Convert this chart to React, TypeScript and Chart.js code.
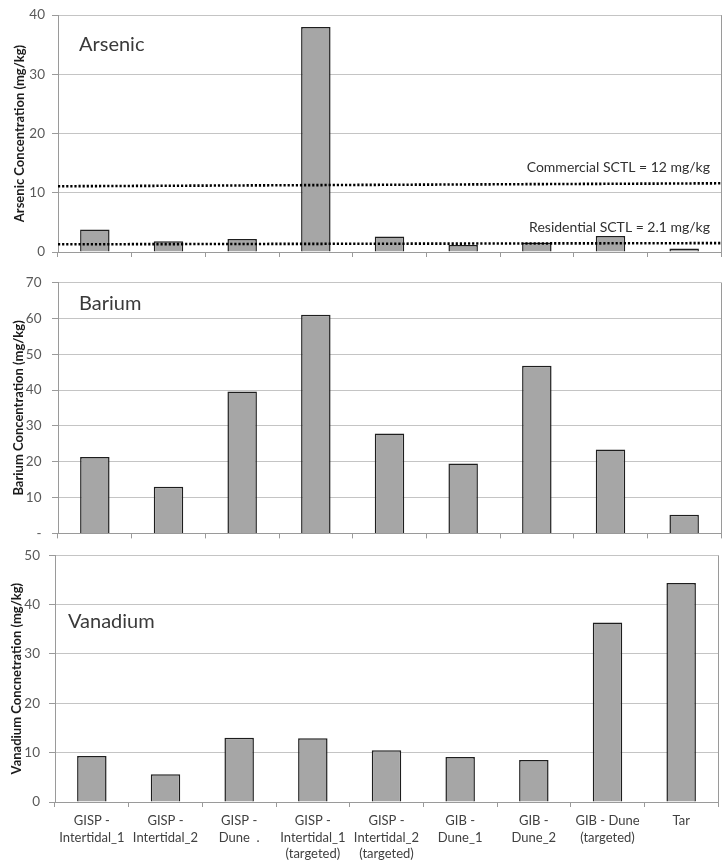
import React, { useEffect, useRef } from "react";
import { Chart, registerables } from "chart.js";

Chart.register(...registerables);

const categories: string[][] = [
  ["GISP -", "Intertidal_1"],
  ["GISP -", "Intertidal_2"],
  ["GISP -", "Dune  ."],
  ["GISP -", "Intertidal_1", "(targeted)"],
  ["GISP -", "Intertidal_2", "(targeted)"],
  ["GIB -", "Dune_1"],
  ["GIB -", "Dune_2"],
  ["GIB - Dune", "(targeted)"],
  ["Tar"],
];

const arsenic = [3.8, 1.8, 2.2, 38.0, 2.6, 1.2, 1.6, 2.7, 0.6];
const barium = [21.3, 13.0, 39.6, 61.0, 27.9, 19.5, 46.8, 23.4, 5.2];
const vanadium = [9.3, 5.6, 13.0, 12.9, 10.5, 9.1, 8.5, 36.4, 44.4];

const arsenicTicks = ["0", "10", "20", "30", "40"];
const bariumTicks = ["-", "10", "20", "30", "40", "50", "60", "70"];
const vanadiumTicks = ["0", "10", "20", "30", "40", "50"];

const thresholdLabels = ["Commercial SCTL = 12 mg/kg", "Residential SCTL = 2.1 mg/kg"];
// drawn line levels (start, end) as they appear on the chart
const commercialLine = [11.1, 11.6];
const residentialLine = [1.3, 1.5];
const lineSpan = [0, 1];

const FONT = "Lato, 'Open Sans', sans-serif";
const BAR_FILL = "#a6a6a6";
const BAR_EDGE = "#1e1e1e";
const GRID = "#c4c4c4";
const AXIS = "#9a9a9a";

const decorPlugin = {
  id: "decor",
  afterDraw(chart: any, _args: any, opts: any) {
    const { ctx, chartArea: a } = chart;
    ctx.save();
    ctx.strokeStyle = AXIS;
    ctx.lineWidth = 1;
    ctx.beginPath();
    ctx.moveTo(Math.round(a.right) + 0.5, a.top);
    ctx.lineTo(Math.round(a.right) + 0.5, a.bottom);
    ctx.stroke();

    ctx.fillStyle = "#3a3a3a";
    ctx.font = `20px ${FONT}`;
    ctx.textAlign = "left";
    ctx.textBaseline = "middle";
    ctx.fillText(opts.title, a.left + opts.titleDx, a.top + opts.titleDy);

    if (opts.notes) {
      ctx.font = `14px ${FONT}`;
      ctx.textAlign = "right";
      ctx.fillStyle = "#303030";
      const y = chart.scales.y;
      opts.notes.forEach((n: any) => {
        ctx.fillText(n.text, a.right - 11, y.getPixelForValue(n.value) - 16);
      });
    }
    ctx.restore();
  },
};

type PanelProps = {
  top: number;
  height: number;
  values: number[];
  tickLabels: string[];
  max: number;
  yTitle: string;
  title: string;
  titleDx: number;
  titleDy: number;
  axisWidth: number;
  titlePad: number;
  tickPad: number;
  padTop: number;
  padRight: number;
  showX: boolean;
  xHeight: number;
  lines?: boolean;
};

function Panel(p: PanelProps) {
  const ref = useRef<HTMLCanvasElement>(null);
  useEffect(() => {
    if (!ref.current) return;
    const datasets: any[] = [
      {
        type: "bar",
        data: p.values,
        backgroundColor: BAR_FILL,
        borderColor: BAR_EDGE,
        borderWidth: 1.5,
        barPercentage: 0.4,
        categoryPercentage: 1,
        grouped: false,
        xAxisID: "x",
        order: 2,
      },
    ];
    if (p.lines) {
      [commercialLine, residentialLine].forEach((ln) => {
        datasets.push({
          type: "line",
          xAxisID: "xl",
          data: lineSpan.map((x, i) => ({ x, y: ln[i] })),
          borderColor: "#000",
          borderWidth: 2.6,
          borderDash: [2.2, 1.9],
          borderCapStyle: "butt",
          pointRadius: 0,
          fill: false,
          order: 1,
          clip: false,
        });
      });
    }
    const scales: any = {
      x: {
        type: "category",
        offset: true,
        grid: {
          offset: true,
          drawOnChartArea: false,
          drawTicks: true,
          tickLength: 5,
          tickColor: AXIS,
        },
        border: { display: true, color: AXIS },
        ticks: {
          display: p.showX,
          autoSkip: false,
          maxRotation: 0,
          padding: 5,
          color: "#404040",
          font: { family: FONT, size: 13, lineHeight: 1.3 },
        },
        afterFit: (s: any) => {
          s.height = p.xHeight;
        },
      },
      y: {
        min: 0,
        max: p.max,
        ticks: {
          stepSize: 10,
          padding: p.tickPad,
          color: "#595959",
          font: { family: FONT, size: 13.5 },
          callback: (_v: any, i: number) => p.tickLabels[i],
        },
        grid: { color: GRID, tickLength: 6, tickColor: AXIS },
        border: { display: true, color: AXIS },
        title: {
          display: true,
          text: p.yTitle,
          color: "#1a1a1a",
          font: { family: FONT, size: 13, weight: "bold" },
          padding: { top: p.titlePad, bottom: 0 },
        },
        afterFit: (s: any) => {
          s.width = p.axisWidth;
        },
      },
    };
    if (p.lines) {
      scales.xl = {
        type: "linear",
        display: false,
        offset: false,
        min: 0,
        max: 1,
        grid: { offset: false },
      };
    }
    const chart = new Chart(ref.current, {
      type: "bar",
      data: { labels: categories as any, datasets },
      options: {
        animation: false,
        responsive: false,
        maintainAspectRatio: false,
        events: [],
        layout: { padding: { top: p.padTop, right: p.padRight, left: 0, bottom: 0 } },
        plugins: {
          legend: { display: false },
          tooltip: { enabled: false },
          decor: {
            title: p.title,
            titleDx: p.titleDx,
            titleDy: p.titleDy,
            notes: p.lines
              ? [
                  { text: thresholdLabels[0], value: commercialLine[1] },
                  { text: thresholdLabels[1], value: residentialLine[1] },
                ]
              : null,
          },
        } as any,
        scales,
      },
      plugins: [decorPlugin],
    });
    return () => chart.destroy();
  }, []);
  return (
    <canvas
      ref={ref}
      width={726}
      height={p.height}
      style={{ position: "absolute", left: 0, top: p.top, width: 726, height: p.height }}
    />
  );
}

export default function App() {
  return (
    <div style={{ position: "absolute", left: 0, top: 0, width: 726, height: 867, background: "#fff", overflow: "hidden" }}>
      <Panel
        top={0}
        height={270}
        values={arsenic}
        tickLabels={arsenicTicks}
        max={40}
        yTitle="Arsenic Concentration (mg/kg)"
        title="Arsenic"
        titleDx={21}
        titleDy={29}
        axisWidth={58}
        titlePad={12}
        tickPad={7}
        padTop={10}
        padRight={5}
        showX={false}
        xHeight={18}
        lines
      />
      <Panel
        top={262}
        height={290}
        values={barium}
        tickLabels={bariumTicks}
        max={70}
        yTitle="Barium Concentration (mg/kg)"
        title="Barium"
        titleDx={21}
        titleDy={21}
        axisWidth={58}
        titlePad={11}
        tickPad={10.5}
        padTop={20.5}
        padRight={5}
        showX={false}
        xHeight={12}
      />
      <Panel
        top={535}
        height={332}
        values={vanadium}
        tickLabels={vanadiumTicks}
        max={50}
        yTitle="Vanadium Concnetration (mg/kg)"
        title="Vanadium"
        titleDx={13}
        titleDy={66}
        axisWidth={55}
        titlePad={9}
        tickPad={9}
        padTop={20.3}
        padRight={8}
        showX={true}
        xHeight={65}
      />
    </div>
  );
}
